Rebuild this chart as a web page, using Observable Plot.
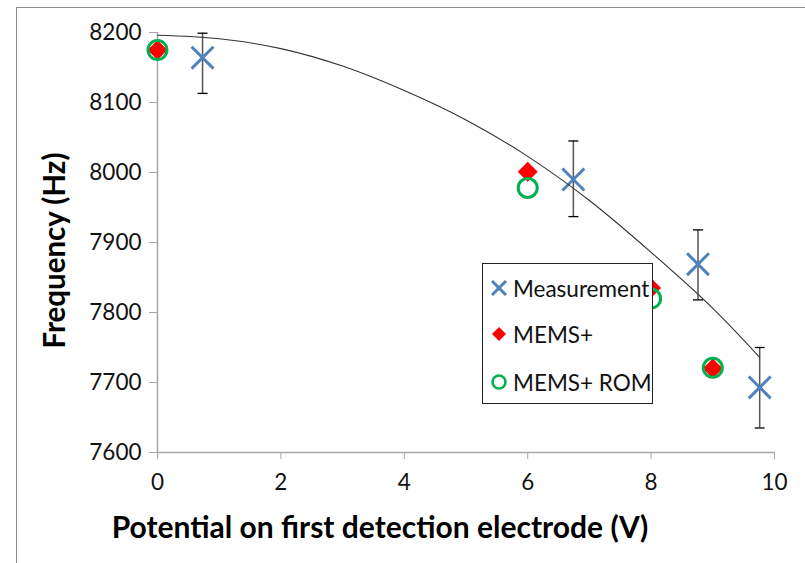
<!DOCTYPE html>
<html>
<head>
<meta charset="utf-8">
<script src="https://cdn.jsdelivr.net/npm/d3@7"></script>
<script src="https://cdn.jsdelivr.net/npm/@observablehq/plot@0.6"></script>
<style>
  html, body { margin: 0; padding: 0; background: #fff; }
  #wrap { position: relative; width: 805px; height: 563px; overflow: hidden; font-family: Lato, sans-serif; }
  #frame { position: absolute; left: 16px; top: 7px; width: 900px; height: 700px; border-top: 1.5px solid #8c8c8c; border-left: 1.5px solid #8c8c8c; pointer-events: none; }
  #legend { position: absolute; left: 482px; top: 263px; width: 171px; height: 141px; border: 1px solid #222; background: #fff; box-sizing: border-box; }
  .li { position: absolute; left: 2px; height: 24px; display: flex; align-items: center; font-size: 22.5px; color: #111; }
  .li svg { width: 28px; height: 24px; margin-right: 0px; }
</style>
</head>
<body>
<div id="wrap">
  <div id="chart"></div>
  <div id="frame"></div>
  <div id="legend">
    <div class="li" style="top:12px"><svg viewBox="-14 -12 28 24"><path d="M-7,-7L7,7M7,-7L-7,7" stroke="#4f81bd" stroke-width="3" fill="none"/></svg><span>Measurement</span></div>
    <div class="li" style="top:58px"><svg viewBox="-14 -12 28 24"><path d="M0,-7L7,0L0,7L-7,0Z" fill="#ff0000"/></svg><span>MEMS+</span></div>
    <div class="li" style="top:106px"><svg viewBox="-14 -12 28 24"><circle r="6.5" stroke="#00b050" stroke-width="2.5" fill="none"/></svg><span>MEMS+ ROM</span></div>
  </div>
</div>
<script>
// ---- data ----
const measV    = [0.73, 6.74, 8.76, 9.76];
const measF    = [8164, 7990, 7869, 7693];
const measLow  = [8113, 7937, 7818, 7635];
const measHigh = [8199, 8045, 7918, 7750];

const memsV = [0, 6, 8, 9];
const memsF = [8175, 8001, 7835, 7720];

const romV = [0, 6, 8, 9];
const romF = [8175, 7978, 7820, 7721];

// trend line
const fitV = [0, 1, 2, 3, 4, 5, 6, 7, 8, 9, 9.76];
const fitF = [8196, 8191, 8177, 8152, 8117, 8075, 8023, 7960, 7886, 7806, 7736];

const xTicks = [0, 2, 4, 6, 8, 10];
const yTicks = [7600, 7700, 7800, 7900, 8000, 8100, 8200];

const xTitle = "Potential on first detection electrode (V)";
const yTitle = "Frequency (Hz)";

// ---- tables built from the arrays ----
const meas = measV.map((v, i) => ({v, f: measF[i], lo: measLow[i], hi: measHigh[i]}));
const mems = memsV.map((v, i) => ({v, f: memsF[i]}));
const rom  = romV.map((v, i) => ({v, f: romF[i]}));
const fit  = fitV.map((v, i) => ({v, f: fitF[i]}));

const capSymbol = {
  draw(ctx, size) {
    const r = Math.sqrt(size / Math.PI);
    ctx.moveTo(-r, 0);
    ctx.lineTo(r, 0);
  }
};

const axisGray = "#a6a6a6";

const chart = Plot.plot({
  width: 805,
  height: 563,
  marginLeft: 157,
  marginRight: 31,
  marginTop: 32,
  marginBottom: 111,
  x: {domain: [0, 10]},
  y: {domain: [7600, 8200]},
  style: {fontFamily: "Lato, sans-serif", fontSize: "22.5px", color: "#111", background: "#fff", overflow: "visible"},
  marks: [
    Plot.ruleY([7600], {stroke: axisGray, strokeWidth: 1.5}),
    Plot.ruleX([0], {stroke: axisGray, strokeWidth: 1.5}),
    Plot.axisX({ticks: xTicks, tickSize: 7, tickPadding: 15, stroke: axisGray, fill: "#111", label: null, tickFormat: d => String(d)}),
    Plot.axisY({ticks: yTicks, tickSize: 8, tickPadding: 8, stroke: axisGray, fill: "#111", label: null, tickFormat: d => String(d)}),
    Plot.text([yTitle], {text: d => d, frameAnchor: "left", textAnchor: "middle", dx: -102, dy: 8, rotate: -90, fontWeight: "bold", fontSize: 29.5, fill: "#000"}),
    Plot.text([xTitle], {text: d => d, frameAnchor: "bottom", textAnchor: "middle", dx: -86, dy: 85, fontWeight: "bold", fontSize: 30, fill: "#000"}),
    // error bars
    Plot.ruleX(meas, {x: "v", y1: "lo", y2: "hi", stroke: "#555", strokeWidth: 1.5}),
    Plot.dot(meas, {x: "v", y: "lo", symbol: capSymbol, r: 5, stroke: "#000", strokeWidth: 1.3}),
    Plot.dot(meas, {x: "v", y: "hi", symbol: capSymbol, r: 5, stroke: "#000", strokeWidth: 1.3}),
    // series
    Plot.dot(meas, {x: "v", y: "f", symbol: "times", r: 10, stroke: "#4f81bd", strokeWidth: 3}),
    Plot.dot(mems, {x: "v", y: "f", symbol: "diamond2", r: 9, fill: "#ff0000", stroke: "none"}),
    Plot.dot(rom, {x: "v", y: "f", r: 9.5, stroke: "#00b050", strokeWidth: 3, fill: "none"}),
    // trend line
    Plot.line(fit, {x: "v", y: "f", curve: "catmull-rom", stroke: "#333", strokeWidth: 1.1})
  ]
});
document.getElementById("chart").appendChild(chart);
</script>
</body>
</html>
